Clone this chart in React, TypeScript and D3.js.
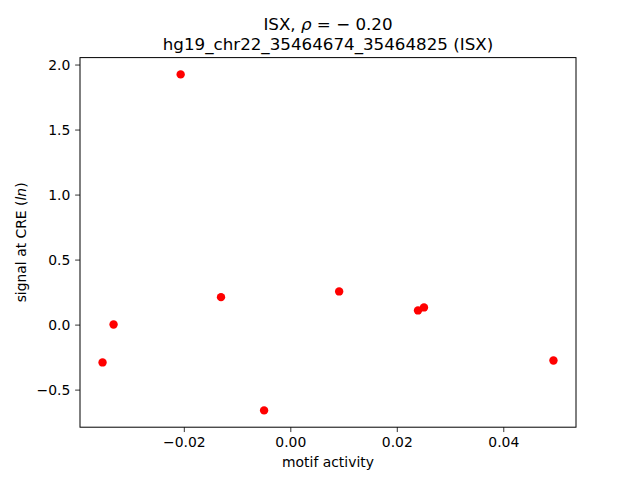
import React from "react";
import * as d3 from "d3";

const motifActivity = [-0.03536, -0.03329, -0.02069, -0.01311, -0.00502, 0.00908, 0.02389, 0.02501, 0.04933];
const signal = [-0.287, 0.005, 1.928, 0.215, -0.656, 0.259, 0.113, 0.136, -0.272];
const xTicks = [-0.02, 0.0, 0.02, 0.04];
const yTicks = [-0.5, 0.0, 0.5, 1.0, 1.5, 2.0];
const titleLine2 = "hg19_chr22_35464674_35464825 (ISX)";

const W = 640, H = 480;
const L = 80, R = 576, T = 57.6, B = 427.2;
const FONT = "DejaVu Sans, sans-serif";

function padExtent(v: number[]): [number, number] {
  const [a, b] = d3.extent(v) as [number, number];
  const m = (b - a) * 0.05;
  return [a - m, b + m];
}

export default function App() {
  const x = d3.scaleLinear().domain(padExtent(motifActivity)).range([L, R]);
  const y = d3.scaleLinear().domain(padExtent(signal)).range([B, T]);
  const tickLen = 4.86;
  return (
    <svg width={W} height={H} style={{ position: "absolute", left: 0, top: 0 }} fontFamily={FONT}>
      <rect x={0} y={0} width={W} height={H} fill="#fff" />
      {motifActivity.map((d, i) => (
        <circle key={i} cx={x(d)} cy={y(signal[i])} r={4.2} fill="#ff0000" />
      ))}
      <rect x={L} y={T} width={R - L} height={B - T} fill="none" stroke="#000" strokeWidth={1} />
      {xTicks.map((t) => (
        <g key={"x" + t}>
          <line x1={x(t)} x2={x(t)} y1={B} y2={B + tickLen} stroke="#000" strokeWidth={0.8} />
          <text x={x(t)} y={447} fontSize={13.9} textAnchor="middle" fill="#000">
            {d3.format(".2f")(t).replace("-", "\u2212")}
          </text>
        </g>
      ))}
      {yTicks.map((t) => (
        <g key={"y" + t}>
          <line x1={L - tickLen} x2={L} y1={y(t)} y2={y(t)} stroke="#000" strokeWidth={0.8} />
          <text x={L - 9.7} y={y(t)} dy="0.35em" fontSize={13.9} textAnchor="end" fill="#000">
            {d3.format(".1f")(t).replace("-", "\u2212")}
          </text>
        </g>
      ))}
      <text x={(L + R) / 2} y={467} fontSize={13.9} textAnchor="middle" fill="#000">motif activity</text>
      <text transform={`translate(26, ${(T + B) / 2}) rotate(-90)`} fontSize={13.9} textAnchor="middle" fill="#000">
        signal at CRE (<tspan fontStyle="italic">ln</tspan>)
      </text>
      <text x={(L + R) / 2} y={30} fontSize={16.7} textAnchor="middle" fill="#000">
        ISX, <tspan fontStyle="italic">ρ</tspan> = − 0.20
      </text>
      <text x={(L + R) / 2} y={49.5} fontSize={16.7} textAnchor="middle" fill="#000">{titleLine2}</text>
    </svg>
  );
}
